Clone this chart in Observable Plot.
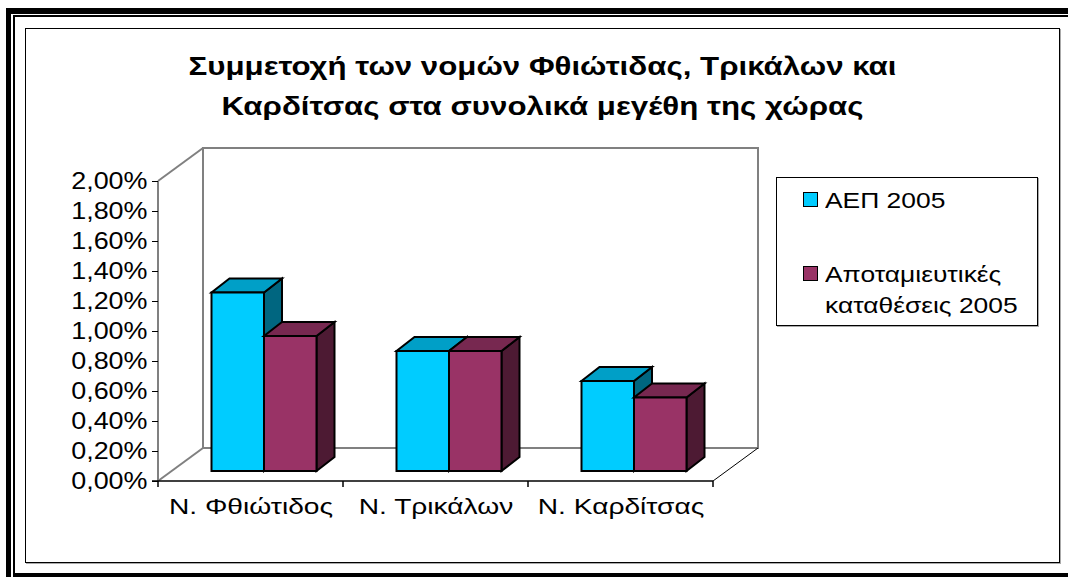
<!DOCTYPE html>
<html>
<head>
<meta charset="utf-8">
<script src="https://cdn.jsdelivr.net/npm/d3@7"></script>
<script src="https://cdn.jsdelivr.net/npm/@observablehq/plot@0.6"></script>
<style>
  html, body { margin: 0; padding: 0; background: #fff; }
  #page { position: relative; width: 1068px; height: 577px; overflow: hidden; background: #fff;
          font-family: "Liberation Sans", Arial, sans-serif; color: #000; }
  .blk { position: absolute; background: #000; }
  #chartbox { position: absolute; left: 25px; top: 28px; width: 1033px; height: 533px;
              border: 1px solid #000; box-shadow: 1px 1px 0 #aaa; }
  #title { position: absolute; left: 25px; top: 46px; width: 1035px; text-align: center;
           font-weight: bold; font-size: 25px; line-height: 40px; }
  #title div { transform: scaleX(1.25); transform-origin: 50% 50%; }
  #plot { position: absolute; left: 0; top: 0; }
  #legend { position: absolute; left: 776px; top: 177px; width: 260px; height: 147px;
            border: 1px solid #000; box-shadow: 1px 1px 0 #aaa; background: #fff; }
  .item { position: absolute; left: 48px; font-size: 22px; line-height: 31px; white-space: nowrap;
          transform: scaleX(1.2); transform-origin: 0 50%; }
  .sw { position: absolute; left: 26px; width: 13px; height: 13px; border: 1.5px solid #000; }
</style>
</head>
<body>
<div id="page">
  <div class="blk" style="left:6px;top:8px;width:1062px;height:6px"></div>
  <div class="blk" style="left:6px;top:8px;width:5px;height:569px"></div>
  <div class="blk" style="left:13px;top:15px;width:1055px;height:2px"></div>
  <div class="blk" style="left:13px;top:15px;width:2px;height:562px"></div>
  <div class="blk" style="left:13px;top:573px;width:1055px;height:4px"></div>
  <div id="chartbox"></div>
  <div id="title"></div>
  <div id="plot"></div>
  <div id="legend"></div>
</div>
<script>
// ---- data ----
const title = ["Συμμετοχή των νομών Φθιώτιδας, Τρικάλων και", "Καρδίτσας στα συνολικά μεγέθη της χώρας"];
const categories = ["Ν. Φθιώτιδος", "Ν. Τρικάλων", "Ν. Καρδίτσας"];
const seriesNames = ["ΑΕΠ 2005", "Αποταμιευτικές καταθέσεις 2005"];
const legendLines = [["ΑΕΠ 2005"], ["Αποταμιευτικές", "καταθέσεις 2005"]];
const aep2005 = [1.19, 0.80, 0.60];        // % of country total
const deposits2005 = [0.90, 0.80, 0.49];   // % of country total
const yTicks = [0, 0.2, 0.4, 0.6, 0.8, 1.0, 1.2, 1.4, 1.6, 1.8, 2.0];
const seriesColors = ["#00CCFF", "#993366"];

// ---- layout / style ----
const W = 1068, H = 577;
const FONT = '"Liberation Sans", Arial, sans-serif';
const wallDepth = [45, 33];     // px offset of back wall
const barShift = [13.5, 10];    // px offset of bar front face from front plane
const barDepth = [18, 14];      // px depth of each bar
const gray = "#808080";

const seriesValues = [aep2005, deposits2005];
const data = categories.flatMap((c, i) => seriesNames.map((s, k) => ({category: c, series: s, k, value: seriesValues[k][i]})));

// title
document.getElementById("title").innerHTML = title.map(t => `<div>${t}</div>`).join("");

// legend
const legend = document.getElementById("legend");
const itemTops = [7, 81];
legendLines.forEach((lines, k) => {
  const it = document.createElement("div");
  it.className = "item";
  it.style.top = itemTops[k] + "px";
  it.innerHTML = lines.join("<br>");
  legend.appendChild(it);
  const sw = document.createElement("div");
  sw.className = "sw";
  sw.style.top = (itemTops[k] + 7) + "px";
  sw.style.background = seriesColors[k];
  legend.appendChild(sw);
});

const shade = (c, f) => { const r = d3.rgb(c); return d3.rgb(r.r * f, r.g * f, r.b * f).formatHex(); };

// walls, floor and category dividers derived from the frame dimensions
function walls(index, scales, values, dim) {
  const L = dim.marginLeft, R = dim.width - dim.marginRight, T = dim.marginTop, B = dim.height - dim.marginBottom;
  const [dx, dy] = wallDepth;
  const g = d3.create("svg:g").attr("fill", "none");
  const line = (pts, stroke, w) => g.append("path").attr("d", "M" + pts.map(p => p.join(",")).join("L"))
      .attr("stroke", stroke).attr("stroke-width", w).attr("stroke-linejoin", "miter");
  line([[L + dx, B - dy], [L + dx, T - dy], [R + dx, T - dy], [R + dx, B - dy], [L + dx, B - dy]], gray, 2);
  line([[L, T], [L + dx, T - dy]], gray, 2);
  line([[L, B], [L + dx, B - dy]], gray, 2);
  line([[L, T], [L, B]], gray, 2);
  line([[R, B], [R + dx, B - dy]], "#000", 1);
  line([[L - 6, B], [R, B]], "#000", 1.5);
  const n = categories.length;
  for (let i = 0; i <= n; ++i) {
    const x = L + (R - L) * i / n;
    line([[x, B], [x, B + 6]], "#000", 1.5);
  }
  return g.node();
}

function bars3d(index, scales, values, dim, context, next) {
  const base = next(index, scales, values, dim, context);
  const rects = Array.from(base.querySelectorAll("rect"));
  const g = d3.create("svg:g").attr("stroke", "#000").attr("stroke-width", 2).attr("stroke-linejoin", "miter");
  const [sx, sy] = barShift, [bx, by] = barDepth;
  rects.forEach((r, j) => {
    const i = index[j];
    const k = data[i].k;
    const x = +r.getAttribute("x"), w = +r.getAttribute("width");
    const y = +r.getAttribute("y"), h = +r.getAttribute("height");
    const half = w / 2;
    const x1 = x + k * half + sx, x2 = x1 + half;
    const yt = y - sy, yb = y + h - sy;
    const col = values.fill ? values.fill[i] : seriesColors[k];
    const poly = (pts, fill) => g.append("path").attr("d", "M" + pts.map(p => p.join(",")).join("L") + "Z").attr("fill", fill);
    poly([[x2, yt], [x2 + bx, yt - by], [x2 + bx, yb - by], [x2, yb]], shade(col, 0.5));
    poly([[x1, yt], [x2, yt], [x2 + bx, yt - by], [x1 + bx, yt - by]], shade(col, 0.78));
    poly([[x1, yt], [x2, yt], [x2, yb], [x1, yb]], col);
  });
  return g.node();
}

const chart = Plot.plot({
  width: W, height: H,
  marginLeft: 158, marginRight: W - 713, marginTop: 181, marginBottom: H - 481,
  style: {background: "transparent", fontFamily: FONT, color: "#000", overflow: "visible"},
  x: {type: "band", domain: categories, paddingInner: 0.43, paddingOuter: 0.215, label: null},
  y: {domain: [0, 2], label: null},
  color: {domain: seriesNames, range: seriesColors},
  marks: [
    walls,
    Plot.barY(data, {x: "category", y1: d => 0, y2: "value", fill: "series", render: bars3d}),
    Plot.axisY({ticks: yTicks, tickFormat: d => d.toFixed(2).replace(".", ",") + "%", tickSize: 6, tickPadding: 5, fontSize: 23}),
    Plot.axisX({tickSize: 0, tickPadding: 17, fontSize: 22})
  ]
});
// horizontal stretch of tick labels to match the reference's wide lettering
const stretch = (sel, f) => chart.querySelectorAll(sel).forEach(t => {
  t.setAttribute("transform", (t.getAttribute("transform") || "") + ` scale(${f},1)`);
});
stretch('g[aria-label="y-axis tick label"] text', 1.17);
stretch('g[aria-label="x-axis tick label"] text', 1.28);
document.getElementById("plot").appendChild(chart);
</script>
</body>
</html>
